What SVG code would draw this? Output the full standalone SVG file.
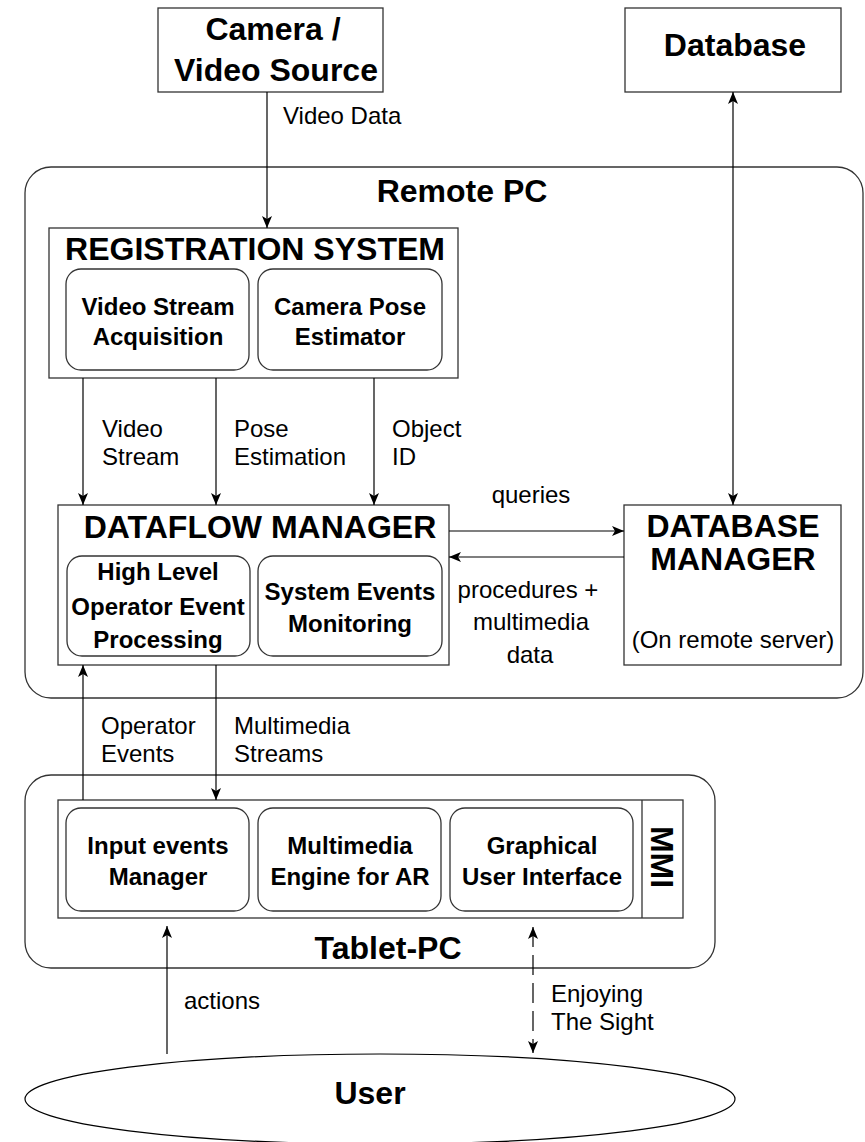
<svg xmlns="http://www.w3.org/2000/svg" width="865" height="1142" viewBox="0 0 865 1142">
<style>
.box{fill:#fff;stroke:#333;stroke-width:1.3}
.frame{fill:none;stroke:#333;stroke-width:1.3}
.h{font-family:"Liberation Sans",Arial,sans-serif;font-weight:bold;font-size:32px;fill:#000;text-anchor:middle}
.s{font-family:"Liberation Sans",Arial,sans-serif;font-weight:bold;font-size:24px;fill:#000;text-anchor:middle}
.l{font-family:"Liberation Sans",Arial,sans-serif;font-size:24px;fill:#000}
.lc{font-family:"Liberation Sans",Arial,sans-serif;font-size:24px;fill:#000;text-anchor:middle}
.c{fill:none;stroke:#000;stroke-width:1.2}
.d{fill:none;stroke:#000;stroke-width:1.2;stroke-dasharray:20 8}
</style>
<defs>
<marker id="ah" viewBox="0 0 12 10" refX="12" refY="5" markerWidth="12" markerHeight="10" markerUnits="userSpaceOnUse" orient="auto-start-reverse">
<path d="M0,0 L12,5 L0,10 L3,5 z" fill="#000"/>
</marker>
</defs>

<g id="remote-pc">
<rect class="frame" x="25" y="167" width="838" height="531" rx="26" ry="26"/>
<text class="h" x="462" y="202">Remote PC</text>
</g>

<g id="tablet-pc">
<rect class="frame" x="25" y="775" width="690" height="193" rx="26" ry="26"/>
<text class="h" x="388" y="959">Tablet-PC</text>
</g>

<g id="camera">
<rect class="box" x="158" y="8" width="225" height="84"/>
<text class="h" x="273" y="40">Camera /</text>
<text class="h" x="276" y="81">Video Source</text>
</g>

<g id="database">
<rect class="box" x="625" y="8" width="216" height="84"/>
<text class="h" x="735" y="56">Database</text>
</g>

<g id="registration-system">
<rect class="box" x="49" y="228" width="409" height="150"/>
<text class="h" x="255" y="260">REGISTRATION SYSTEM</text>
<g id="video-stream-acquisition">
<rect class="box" x="66" y="269" width="183" height="101" rx="15" ry="15"/>
<text class="s" x="158" y="315">Video Stream</text>
<text class="s" x="158" y="345">Acquisition</text>
</g>
<g id="camera-pose-estimator">
<rect class="box" x="258" y="269" width="184" height="101" rx="15" ry="15"/>
<text class="s" x="350" y="315">Camera Pose</text>
<text class="s" x="350" y="345">Estimator</text>
</g>
</g>

<g id="dataflow-manager">
<rect class="box" x="58" y="505" width="391" height="160"/>
<text class="h" x="260" y="538">DATAFLOW MANAGER</text>
<g id="high-level-operator-event-processing">
<rect class="box" x="67" y="556" width="183" height="100" rx="15" ry="15"/>
<text class="s" x="158" y="580">High Level</text>
<text class="s" x="158" y="615">Operator Event</text>
<text class="s" x="158" y="648">Processing</text>
</g>
<g id="system-events-monitoring">
<rect class="box" x="258" y="556" width="184" height="100" rx="15" ry="15"/>
<text class="s" x="350" y="600">System Events</text>
<text class="s" x="350" y="632">Monitoring</text>
</g>
</g>

<g id="database-manager">
<rect class="box" x="624" y="505" width="217" height="160"/>
<text class="h" x="733" y="537">DATABASE</text>
<text class="h" x="733" y="570">MANAGER</text>
<text class="lc" x="733" y="648">(On remote server)</text>
</g>

<g id="mmi">
<rect class="box" x="58" y="800" width="625" height="118"/>
<line class="frame" x1="642" y1="800" x2="642" y2="918"/>
<text class="h" transform="translate(651,857) rotate(90)">MMI</text>
<g id="input-events-manager">
<rect class="box" x="66" y="808" width="183" height="103" rx="15" ry="15"/>
<text class="s" x="158" y="854">Input events</text>
<text class="s" x="158" y="885">Manager</text>
</g>
<g id="multimedia-engine">
<rect class="box" x="258" y="808" width="183" height="103" rx="15" ry="15"/>
<text class="s" x="350" y="854">Multimedia</text>
<text class="s" x="350" y="885">Engine for AR</text>
</g>
<g id="graphical-user-interface">
<rect class="box" x="450" y="808" width="183" height="103" rx="15" ry="15"/>
<text class="s" x="542" y="854">Graphical</text>
<text class="s" x="542" y="885">User Interface</text>
</g>
</g>

<g id="user">
<ellipse cx="380" cy="1099" rx="355" ry="45" fill="#fff" stroke="#000" stroke-width="1.2"/>
<text class="h" x="370" y="1104">User</text>
</g>

<g id="connectors">
<line class="c" x1="267" y1="92" x2="267" y2="228" marker-end="url(#ah)"/>
<line class="c" x1="733" y1="92" x2="733" y2="505" marker-start="url(#ah)" marker-end="url(#ah)"/>
<line class="c" x1="83" y1="378" x2="83" y2="505" marker-end="url(#ah)"/>
<line class="c" x1="216" y1="378" x2="216" y2="505" marker-end="url(#ah)"/>
<line class="c" x1="374" y1="378" x2="374" y2="505" marker-end="url(#ah)"/>
<line class="c" x1="449" y1="531" x2="624" y2="531" marker-end="url(#ah)"/>
<line class="c" x1="624" y1="557" x2="449" y2="557" marker-end="url(#ah)"/>
<line class="c" x1="83" y1="800" x2="83" y2="665" marker-end="url(#ah)"/>
<line class="c" x1="216" y1="665" x2="216" y2="800" marker-end="url(#ah)"/>
<line class="c" x1="167" y1="1054" x2="167" y2="926" marker-end="url(#ah)"/>
<line class="d" x1="533" y1="927" x2="533" y2="1053" marker-start="url(#ah)" marker-end="url(#ah)"/>
<text class="l" x="283" y="124">Video Data</text>
<text class="l" x="102" y="437">Video</text>
<text class="l" x="102" y="465">Stream</text>
<text class="l" x="234" y="437">Pose</text>
<text class="l" x="234" y="465">Estimation</text>
<text class="l" x="392" y="437">Object</text>
<text class="l" x="392" y="465">ID</text>
<text class="lc" x="531" y="503">queries</text>
<text class="lc" x="528" y="598">procedures +</text>
<text class="lc" x="531" y="630">multimedia</text>
<text class="lc" x="530" y="663">data</text>
<text class="l" x="101" y="734">Operator</text>
<text class="l" x="101" y="762">Events</text>
<text class="l" x="234" y="734">Multimedia</text>
<text class="l" x="234" y="762">Streams</text>
<text class="l" x="184" y="1009">actions</text>
<text class="l" x="551" y="1002">Enjoying</text>
<text class="l" x="551" y="1030">The Sight</text>
</g>
</svg>
